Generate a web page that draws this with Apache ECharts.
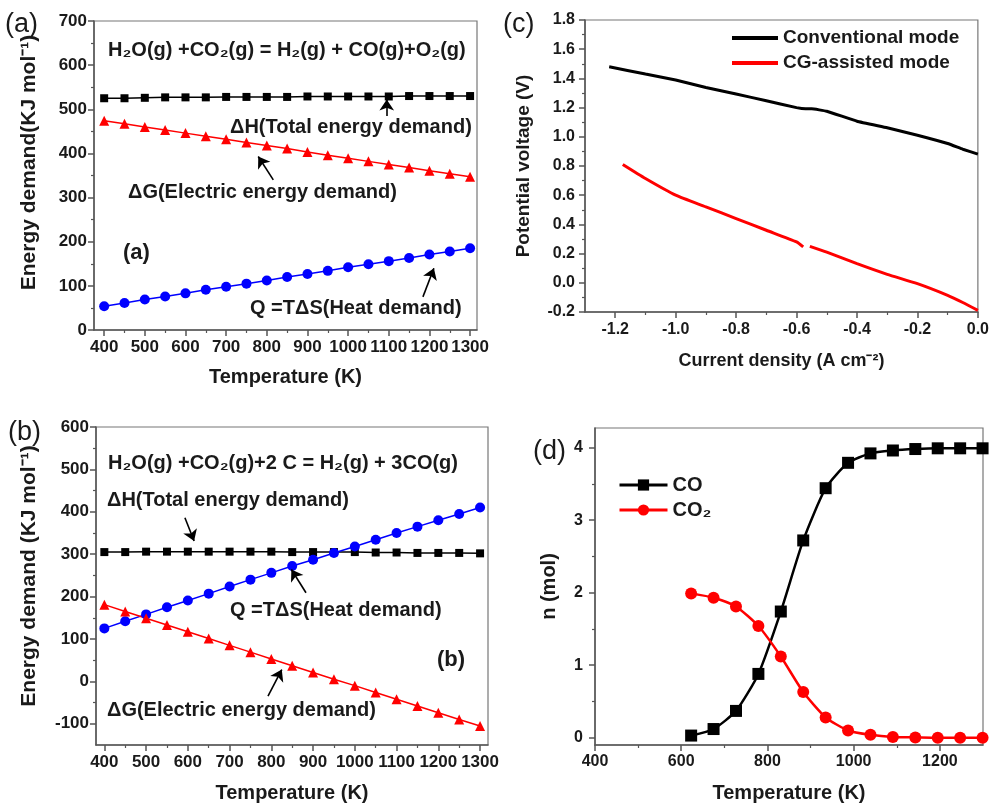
<!DOCTYPE html>
<html>
<head>
<meta charset="utf-8">
<script src="https://cdn.jsdelivr.net/npm/echarts@6/dist/echarts.min.js"></script>
<style>
html,body{margin:0;padding:0;background:#fff;}
#c{width:992px;height:804px;}
</style>
</head>
<body>
<div id="c"></div>
<script>
// ---------- DATA ----------
// Panel (a)
const tempA = [400,450,500,550,600,650,700,750,800,850,900,950,1000,1050,1100,1150,1200,1250,1300];
const dhA = [525,525,526,527,527,527,528,528,528,528,529,529,529,529,529,530,530,530,530];
const dgA = [474,467,460,453,446,439,432,425,418,411,403,396,389,382,375,368,361,354,347];
const qA  = [54,61,69,76,83,91,98,105,112,120,127,134,142,149,156,163,171,178,185];
// Panel (b)
const tempB = [400,450,500,550,600,650,700,750,800,850,900,950,1000,1050,1100,1150,1200,1250,1300];
const dhB = [305,305,306,306,306,306,306,306,306,305,305,305,305,304,304,303,303,303,302];
const qB  = [125,142,158,175,191,207,224,240,256,272,287,303,318,334,350,365,380,395,410];
const dgB = [181,165,149,133,117,101,85,69,53,37,21,5,-10,-26,-42,-58,-74,-90,-105];
// Panel (c)
const convX = [-1.22,-1.1,-1.0,-0.9,-0.8,-0.7,-0.6,-0.57,-0.55,-0.5,-0.4,-0.3,-0.2,-0.1,-0.05,0];
const convY = [1.48,1.43,1.389,1.338,1.293,1.247,1.2,1.192,1.192,1.175,1.107,1.062,1.011,0.954,0.915,0.881];
const cgX = [-1.175,-1.1,-1.0,-0.9,-0.8,-0.7,-0.6,-0.578,-0.567,-0.556,-0.5,-0.4,-0.3,-0.2,-0.1,-0.05,0];
const cgY = [0.81,0.714,0.6,0.52,0.44,0.36,0.28,0.246,null,0.25,0.21,0.131,0.058,-0.006,-0.086,-0.135,-0.189];
// Panel (d)
const tempD = [623,675,727,779,831,883,935,987,1039,1091,1143,1195,1247,1299];
const coD  = [0.03,0.12,0.37,0.88,1.74,2.72,3.44,3.79,3.92,3.96,3.98,3.99,3.99,3.99];
const co2D = [1.99,1.93,1.81,1.54,1.12,0.63,0.28,0.10,0.04,0.01,0.005,0,0,0];

// tick labels
const xTicksAB = [400,500,600,700,800,900,1000,1100,1200,1300];
const xMinorAB = [450,550,650,750,850,950,1050,1150,1250];
const yTicksA = [0,100,200,300,400,500,600,700];
const yMinorA = [50,150,250,350,450,550,650];
const yTicksB = [-100,0,100,200,300,400,500,600];
const yMinorB = [-50,50,150,250,350,450,550];
const xTicksC = [-1.2,-1.0,-0.8,-0.6,-0.4,-0.2,0.0];
const xMinorC = [-1.1,-0.9,-0.7,-0.5,-0.3,-0.1];
const yTicksC = [-0.2,0.0,0.2,0.4,0.6,0.8,1.0,1.2,1.4,1.6,1.8];
const yMinorC = [-0.1,0.1,0.3,0.5,0.7,0.9,1.1,1.3,1.5,1.7];
const xTicksD = [400,600,800,1000,1200];
const xMinorD = [500,700,900,1100];
const yTicksD = [0,1,2,3,4];
const yMinorD = [0.5,1.5,2.5,3.5];

// annotation arrows (data coords: x1,y1 -> x2,y2)
const arrowsA = [[1095,485,1095,522],[816,340,779,393],[1184,75,1211,140]];
const arrowsB = [[593,386,615,331],[883,209,848,264],[792,-35,825,28]];

// ---------- HELPERS ----------
const FF = '"Liberation Sans", Arial, Helvetica, sans-serif';
const TXT = '#1a1a1a';
const AX = '#555';
const zip = (xs, ys) => xs.map((x, i) => [x, ys[i] === null ? '-' : ys[i]]);

function axisPair(gi, pos, min, max, labels, minors, fmt, name, nameGap, labelMargin, labelSize) {
  const major = {
    type: 'value', gridIndex: gi, position: pos, min: min, max: max,
    axisLine: {show: true, onZero: false, lineStyle: {color: AX, width: 1.5}},
    axisTick: {show: true, customValues: labels, length: 6, inside: false, lineStyle: {color: AX, width: 1.5}},
    axisLabel: {customValues: labels, formatter: fmt, margin: labelMargin, color: TXT,
      fontFamily: FF, fontWeight: 'bold', fontSize: labelSize},
    splitLine: {show: false},
    name: name, nameLocation: 'middle', nameGap: nameGap,
    nameTextStyle: {fontFamily: FF, fontWeight: 'bold', fontSize: 20, color: TXT}
  };
  const minor = {
    type: 'value', gridIndex: gi, position: pos, min: min, max: max,
    axisLine: {show: false, onZero: false},
    axisTick: {show: true, customValues: minors, length: 3, inside: false, lineStyle: {color: AX, width: 1.2}},
    axisLabel: {show: false},
    splitLine: {show: false}
  };
  return [major, minor];
}
const f0 = v => String(Math.round(v));
const f1 = v => (Math.abs(v) < 1e-9 ? 0 : v).toFixed(1);

function arrowLine(list) {
  return {
    silent: true, symbol: ['none', 'arrow'], symbolSize: 11, precision: 4,
    lineStyle: {color: '#000', width: 1.6, type: 'solid'},
    itemStyle: {color: '#000'},
    label: {show: false}, emphasis: {disabled: true},
    data: list.map(a => [{coord: [a[0], a[1]]}, {coord: [a[2], a[3]]}])
  };
}

function T(x, y, text, size, weight, align) {
  return {type: 'text', x: x, y: y, silent: true,
    style: {text: text, fill: TXT, font: (weight || 'bold') + ' ' + size + 'px ' + FF,
      align: align || 'left', verticalAlign: 'middle'}};
}

const xAxes = [].concat(
  axisPair(0, 'bottom', 375, 1317, xTicksAB, xMinorAB, f0, 'Temperature (K)', 37, 9, 17),
  axisPair(1, 'bottom', 380, 1319, xTicksAB, xMinorAB, f0, 'Temperature (K)', 38, 9, 17),
  axisPair(2, 'bottom', -1.3, 0, xTicksC, xMinorC, f1, 'Current density (A cm\u207B\u00B2)', 40, 10, 16),
  axisPair(3, 'bottom', 400, 1300, xTicksD, xMinorD, f0, 'Temperature (K)', 38, 9, 16)
);
const yAxes = [].concat(
  axisPair(0, 'left', 0, 700, yTicksA, yMinorA, f0, 'Energy demand(KJ mol\u207B\u00B9)', 54, 7, 17),
  axisPair(1, 'left', -150, 600, yTicksB, yMinorB, f0, 'Energy demand (KJ mol\u207B\u00B9)', 56, 7, 17),
  axisPair(2, 'left', -0.2, 1.8, yTicksC, yMinorC, f1, 'Potential voltage (V)', 52, 10, 16),
  axisPair(3, 'left', -0.1, 4.27, yTicksD, yMinorD, f0, 'n (mol)', 36, 12, 16)
);
yAxes[0].nameTextStyle.fontSize = 21;
yAxes[0].nameTextStyle.padding = [0, 0, 0, 26];
yAxes[2].nameTextStyle.fontSize = 21;
yAxes[2].nameTextStyle.padding = [0, 0, 0, 20];
yAxes[4].nameTextStyle.fontSize = 19;
xAxes[4].nameTextStyle.fontSize = 18;

function lineSeries(gi, name, xs, ys, color, symbol, size, width, extra) {
  return Object.assign({
    type: 'line', name: name, xAxisIndex: gi * 2, yAxisIndex: gi * 2,
    data: zip(xs, ys), symbol: symbol, symbolSize: size, showSymbol: symbol !== 'none',
    lineStyle: {color: color, width: width}, itemStyle: {color: color},
    emphasis: {disabled: true}, z: 3
  }, extra || {});
}

const option = {
  animation: false,
  backgroundColor: '#fff',
  textStyle: {fontFamily: FF},
  grid: [
    {left: 94, top: 21, width: 383, height: 309, show: true, borderColor: '#777', borderWidth: 1.2, backgroundColor: 'transparent'},
    {left: 96, top: 427, width: 392, height: 318, show: true, borderColor: '#777', borderWidth: 1.2, backgroundColor: 'transparent'},
    {left: 585, top: 20, width: 394, height: 292, show: true, borderColor: '#777', borderWidth: 1.2, backgroundColor: 'transparent'},
    {left: 595, top: 428, width: 388, height: 317, show: true, borderColor: '#777', borderWidth: 1.2, backgroundColor: 'transparent'}
  ],
  xAxis: xAxes,
  yAxis: yAxes,
  legend: [
    {data: [{name: 'Conventional mode', icon: 'rect'}, {name: 'CG-assisted mode', icon: 'rect'}],
     orient: 'vertical', left: 732, top: 27, itemWidth: 46, itemHeight: 4, itemGap: 3, padding: 0,
     selectedMode: false,
     textStyle: {fontFamily: FF, fontWeight: 'bold', fontSize: 19, lineHeight: 22, color: TXT}},
    {data: ['CO', 'CO\u2082'],
     orient: 'vertical', left: 618, top: 474, itemWidth: 48, itemHeight: 14, itemGap: 3, padding: 0,
     selectedMode: false, lineStyle: {width: 3},
     textStyle: {fontFamily: FF, fontWeight: 'bold', fontSize: 20, lineHeight: 22, color: TXT}}
  ],
  series: [
    lineSeries(0, '\u0394H (a)', tempA, dhA, '#000', 'rect', 8, 1.5, {markLine: arrowLine(arrowsA)}),
    lineSeries(0, '\u0394G (a)', tempA, dgA, '#ff0000', 'triangle', 10, 1.5),
    lineSeries(0, 'Q (a)', tempA, qA, '#0000ff', 'circle', 10, 1.5),
    lineSeries(1, '\u0394H (b)', tempB, dhB, '#000', 'rect', 8, 1.5, {markLine: arrowLine(arrowsB)}),
    lineSeries(1, 'Q (b)', tempB, qB, '#0000ff', 'circle', 10, 1.5),
    lineSeries(1, '\u0394G (b)', tempB, dgB, '#ff0000', 'triangle', 10, 1.5),
    lineSeries(2, 'Conventional mode', convX, convY, '#000', 'none', 0, 3, {smooth: 0.1}),
    lineSeries(2, 'CG-assisted mode', cgX, cgY, '#ff0000', 'none', 0, 3, {smooth: 0.2, connectNulls: false}),
    lineSeries(3, 'CO', tempD, coD, '#000', 'rect', 12, 2.5, {smooth: 0.2}),
    lineSeries(3, 'CO\u2082', tempD, co2D, '#ff0000', 'circle', 12, 2.5, {smooth: 0.2})
  ],
  graphic: {elements: [
    T(5, 25, '(a)', 27, 'normal'),
    T(108, 50, 'H\u2082O(g) +CO\u2082(g) = H\u2082(g) + CO(g)+O\u2082(g)', 20),
    T(230, 127, '\u0394H(Total energy demand)', 20),
    T(128, 192, '\u0394G(Electric energy demand)', 20),
    T(123, 253, '(a)', 22),
    T(250, 308, 'Q =T\u0394S(Heat demand)', 20),
    T(8, 433, '(b)', 27, 'normal'),
    T(108, 463, 'H\u2082O(g) +CO\u2082(g)+2 C = H\u2082(g) + 3CO(g)', 20),
    T(107, 500, '\u0394H(Total energy demand)', 20),
    T(230, 610, 'Q =T\u0394S(Heat demand)', 20),
    T(437, 660, '(b)', 22),
    T(107, 710, '\u0394G(Electric energy demand)', 20),
    T(503, 25, '(c)', 27, 'normal'),
    T(533, 452, '(d)', 27, 'normal')
  ]}
};

const chart = echarts.init(document.getElementById('c'), null, {renderer: 'canvas'});
chart.setOption(option);
</script>
</body>
</html>
